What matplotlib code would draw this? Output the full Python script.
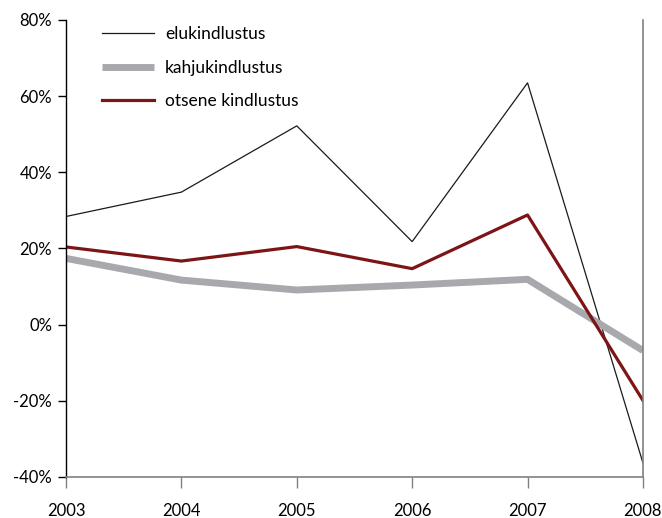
import matplotlib
matplotlib.use("Agg")
import matplotlib.pyplot as plt
from matplotlib.ticker import FuncFormatter

plt.rcParams['font.family'] = ['Lato', 'DejaVu Sans']

years = [2003, 2004, 2005, 2006, 2007, 2008]
elukindlustus = [28.4, 34.8, 52.2, 21.8, 63.5, -36.3]
kahjukindlustus = [17.4, 11.7, 9.1, 10.4, 11.9, -6.8]
otsene_kindlustus = [20.4, 16.7, 20.5, 14.7, 28.8, -19.9]
labels = ['elukindlustus', 'kahjukindlustus', 'otsene kindlustus']
yticks = [-40, -20, 0, 20, 40, 60, 80]

fig = plt.figure(figsize=(6.62, 5.18), dpi=100)
ax = fig.add_axes([0.0997, 0.0792, 0.9712 - 0.0997, 0.9614 - 0.0792])

ax.plot(years, elukindlustus, color='#1a1a1a', lw=0.9, label=labels[0])
ax.plot(years, kahjukindlustus, color='#a7a9ac', lw=5, label=labels[1], solid_capstyle='butt')
ax.plot(years, otsene_kindlustus, color='#7d1416', lw=2.3, label=labels[2])

ax.set_xlim(2003, 2008)
ax.set_ylim(-40, 80)
ax.set_xticks(years)
ax.set_yticks(yticks)
ax.yaxis.set_major_formatter(FuncFormatter(lambda v, p: f"{int(v)}%"))

ax.spines['top'].set_visible(False)
ax.spines['left'].set_color('black')
ax.spines['left'].set_linewidth(1.0)
ax.spines['bottom'].set_color('#808080')
ax.spines['bottom'].set_linewidth(1.2)
ax.spines['right'].set_color('#808080')
ax.spines['right'].set_linewidth(1.2)

ax.tick_params(axis='y', length=6, width=1, color='black', labelsize=12, pad=4)
ax.tick_params(axis='x', length=8, width=1, color='#808080', labelsize=12, pad=11)

leg = ax.legend(loc='upper left', bbox_to_anchor=(0.035, 1.021), frameon=False,
                handlelength=3.0, handletextpad=0.65, labelspacing=1.02, fontsize=12.5)

fig.savefig('out.png', dpi=100)
